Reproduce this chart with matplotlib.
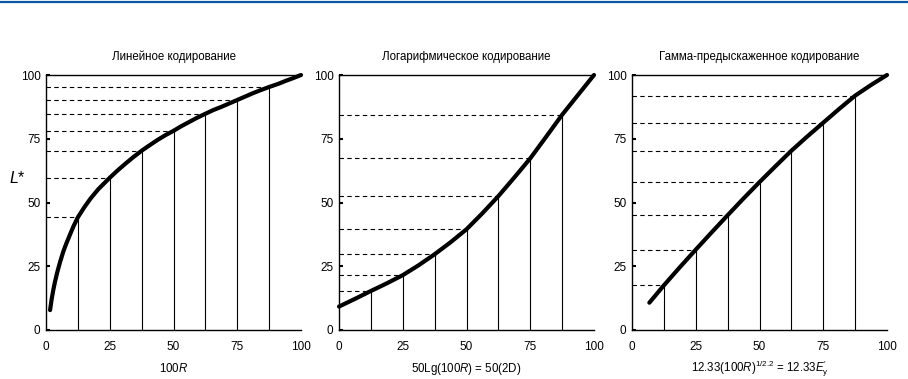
import matplotlib
matplotlib.use("Agg")
import matplotlib.pyplot as plt
from matplotlib.lines import Line2D

plt.rcParams['font.family'] = ['Liberation Sans', 'DejaVu Sans']
plt.rcParams['mathtext.fontset'] = 'custom'
plt.rcParams['mathtext.rm'] = 'Liberation Sans'
plt.rcParams['mathtext.it'] = 'Liberation Sans:italic'

# sample points (vertical / dashed guide lines)
samples_x = [12.5, 25, 37.5, 50, 62.5, 75, 87.5]

# linear coding
lin_x = [1.6, 2.2, 2.9, 3.5, 4.4, 5.5, 6.8, 8.0, 9.4, 10.8, 12.5, 15, 17.5, 20.5, 25, 28, 31, 34,
         37.5, 41, 44, 47, 50, 53, 56, 59, 62.5, 65.5, 69, 72, 75, 78, 81, 84, 87.5, 91, 94, 97, 100]
lin_y = [7.8, 12.0, 15.9, 18.8, 22.6, 26.6, 30.8, 34.0, 37.4, 40.7, 44.2, 48.1, 51.6, 55.2, 59.7, 62.5,
         65.1, 67.6, 70.3, 72.7, 74.7, 76.5, 78.1, 79.9, 81.5, 83.1, 84.8, 86.2, 87.6, 88.9, 90.2, 91.5,
         92.8, 94.0, 95.3, 96.5, 97.7, 98.8, 100]
lin_s = [44.2, 59.7, 70.3, 78.1, 84.8, 90.2, 95.3]

# logarithmic coding
log_x = [0, 6.25, 12.5, 18.75, 25, 31.25, 37.5, 43.75, 50, 56.25, 62.5, 68.75, 75, 81.25, 87.5, 93.75, 100]
log_y = [9.2, 12.2, 15.3, 18.3, 21.5, 25.4, 29.7, 34.4, 39.5, 45.8, 52.5, 59.8, 67.3, 75.8, 84.4, 92.2, 100]
log_s = [15.3, 21.5, 29.7, 39.5, 52.5, 67.3, 84.4]

# gamma-corrected coding
gam_x = [6.8, 12.5, 18.75, 25, 31.25, 37.5, 43.75, 50, 56.25, 62.5, 68.75, 75, 81.25, 87.5, 93.75, 100]
gam_y = [10.7, 17.5, 24.6, 31.5, 38.3, 45.0, 51.6, 58.0, 64.2, 70.3, 75.9, 81.3, 86.7, 91.9, 96.1, 100]
gam_s = [17.5, 31.5, 45.0, 58.0, 70.3, 81.3, 91.9]

titles = ["Линейное кодирование", "Логарифмическое кодирование",
          "Гамма-предыскаженное кодирование"]
xlabels = [r"100$\mathit{R}$", r"50Lg(100$\mathit{R}$) = 50(2D)",
           r"12.33(100$\mathit{R}$)$^{1/2.2}$ = 12.33$\mathit{E}_{\mathrm{y}}^{\prime}$"]
ticks = [0, 25, 50, 75, 100]

W, H = 908, 379
fig = plt.figure(figsize=(W / 100, H / 100), dpi=100)
fig.add_artist(Line2D([0, 1], [1 - 1.5 / H, 1 - 1.5 / H], color='#0a56a0', lw=1.6))

lefts = [46, 339, 632]
curves = [(lin_x, lin_y, lin_s), (log_x, log_y, log_s), (gam_x, gam_y, gam_s)]

for i, (cx, cy, cs) in enumerate(curves):
    ax = fig.add_axes([lefts[i] / W, 49 / H, 255 / W, 255 / H])
    ax.set_xlim(0, 100)
    ax.set_ylim(0, 100)
    ax.vlines(samples_x, 0, cs, color='black', lw=0.8)
    ax.hlines(cs, 0, samples_x, color='black', lw=0.8, linestyles=(0, (4, 3)))
    ax.plot(cx, cy, color='black', lw=3.0, solid_capstyle='round', solid_joinstyle='round',
            clip_on=False, zorder=5)

    ax.spines['right'].set_visible(False)
    for s in ['left', 'bottom', 'top']:
        ax.spines[s].set_linewidth(1.0)
    ax.set_xticks(ticks)
    ax.set_yticks(ticks)
    ax.tick_params(axis='y', direction='in', length=3, width=1.5, pad=4, labelsize=8.5)
    ax.tick_params(axis='x', length=0, pad=8, labelsize=8.5)

    ax.text(0.5, 1 + 18 / 255, titles[i], transform=ax.transAxes,
            ha='center', va='center', fontsize=8.3)
    ax.text(0.5, -39 / 255, xlabels[i], transform=ax.transAxes,
            ha='center', va='center', fontsize=8.3)
    if i == 0:
        ax.text(-29 / 255, 152 / 255, r"$\mathit{L}$*", transform=ax.transAxes,
                ha='center', va='center', fontsize=11.5)

fig.savefig("out.png", dpi=100)
